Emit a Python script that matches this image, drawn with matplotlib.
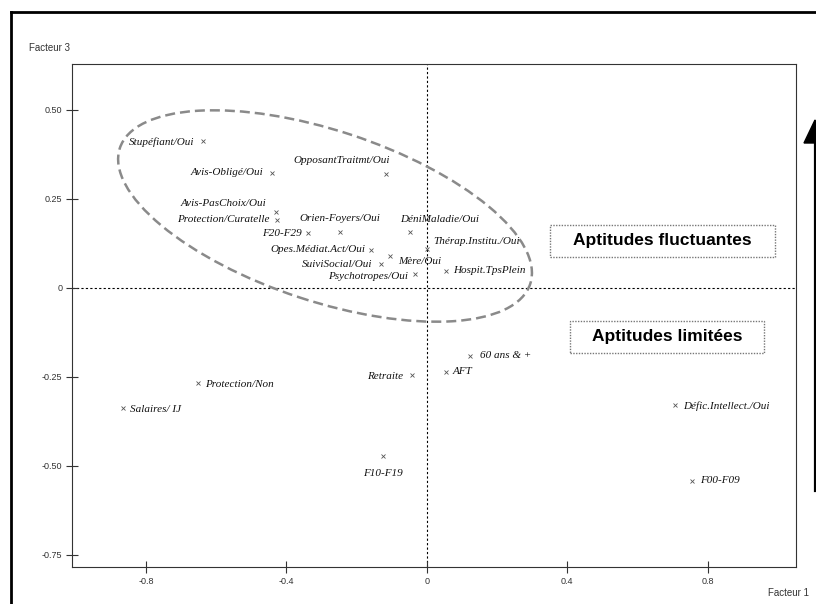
import matplotlib.pyplot as plt
from matplotlib.patches import Ellipse, Rectangle, Polygon
from matplotlib.lines import Line2D

# coordonnées des modalités sur les facteurs 1 et 3
labels = [
    'Stupéfiant/Oui', 'Avis-Obligé/Oui', 'OpposantTraitmt/Oui', 'Avis-PasChoix/Oui',
    'Protection/Curatelle', 'F20-F29', 'Orien-Foyers/Oui', 'Opes.Médiat.Act/Oui',
    'SuiviSocial/Oui', 'Mère/Oui', 'DéniMaladie/Oui', 'Thérap.Institu./Oui',
    'Psychotropes/Oui', 'Hospit.TpsPlein', 'Salaires/ IJ', 'Protection/Non',
    'Retraite', 'F10-F19', 'AFT', '60 ans & +', 'Défic.Intellect./Oui', 'F00-F09',
]
f1 = [-0.638, -0.442, -0.117, -0.430, -0.427, -0.339, -0.248, -0.160,
      -0.131, -0.105, -0.048, 0.000, -0.034, 0.054, -0.866, -0.652,
      -0.043, -0.125, 0.054, 0.123, 0.707, 0.755]
f3 = [0.413, 0.323, 0.320, 0.213, 0.191, 0.154, 0.157, 0.107,
      0.067, 0.090, 0.157, 0.110, 0.039, 0.048, -0.337, -0.267,
      -0.244, -0.472, -0.236, -0.191, -0.329, -0.542]

# placement des étiquettes (décalage en points, alignement)
label_pos = {
    'Stupéfiant/Oui': (-6, -1, 'right'),
    'Avis-Obligé/Oui': (-6, 0, 'right'),
    'OpposantTraitmt/Oui': (3, 10, 'right'),
    'Avis-PasChoix/Oui': (-7, 6, 'right'),
    'Protection/Curatelle': (-5, 0, 'right'),
    'F20-F29': (-4, 0, 'right'),
    'Orien-Foyers/Oui': (0, 10, 'center'),
    'Opes.Médiat.Act/Oui': (-4, 0, 'right'),
    'SuiviSocial/Oui': (-6, 0, 'right'),
    'Mère/Oui': (6, -4, 'left'),
    'DéniMaladie/Oui': (-7, 9, 'left'),
    'Thérap.Institu./Oui': (5, 5, 'left'),
    'Psychotropes/Oui': (-5, -2, 'right'),
    'Hospit.TpsPlein': (5, 0, 'left'),
    'Salaires/ IJ': (5, -1, 'left'),
    'Protection/Non': (5, -1, 'left'),
    'Retraite': (-6, -1, 'right'),
    'F10-F19': (0, -13, 'center'),
    'AFT': (5, 0, 'left'),
    '60 ans & +': (7, 0, 'left'),
    'Défic.Intellect./Oui': (6, -1, 'left'),
    'F00-F09': (6, 0, 'left'),
}

xticks = [-0.8, -0.4, 0, 0.4, 0.8]
yticks = [0.50, 0.25, 0, -0.25, -0.50, -0.75]

fig = plt.figure(figsize=(8.16, 6.04), dpi=100)
ax = fig.add_axes([72 / 816, 1 - 567 / 604, (796 - 72) / 816, (567 - 64) / 604])

ax.set_xlim(-1.011, 1.052)
ax.set_ylim(-0.784, 0.629)

ax.axhline(0, color='black', lw=0.8, ls=(0, (2, 2)), zorder=1)
ax.axvline(0, color='black', lw=0.8, ls=(0, (2, 2)), zorder=1)

ax.plot(f1, f3, 'x', color='#555555', ms=3.5, mew=0.6, ls='none')
for name, x, y in zip(labels, f1, f3):
    dx, dy, ha = label_pos[name]
    ax.annotate(name, (x, y), xytext=(dx, dy), textcoords='offset points',
                ha=ha, va='center', fontsize=8, style='italic',
                family='Liberation Serif', color='#111111')

# groupe entouré
ell = Ellipse((-0.29, 0.202), 1.23, 0.48, angle=-18, fill=False,
              ec='#8a8a8a', lw=1.8, ls=(0, (4, 2)))
ax.add_patch(ell)

ax.set_xticks(xticks)
ax.set_xticklabels(['-0.8', '-0.4', '0', '0.4', '0.8'])
ax.set_yticks(yticks)
ax.set_yticklabels(['0.50', '0.25', '0', '-0.25', '-0.50', '-0.75'])
ax.tick_params(direction='inout', length=8, width=0.8, labelsize=6.5,
               labelcolor='#333333', color='#333333', pad=3)
for lab in ax.get_xticklabels() + ax.get_yticklabels():
    lab.set_family('Liberation Sans')
for side in ['left', 'bottom', 'top', 'right']:
    ax.spines[side].set_linewidth(0.8)
    ax.spines[side].set_color('#333333')

fig.text(29 / 816, 1 - 48 / 604, 'Facteur 3', fontsize=7, color='#333333',
         family='Liberation Sans', va='center')
fig.text(768 / 816, 1 - 593 / 604, 'Facteur 1', fontsize=7, color='#333333',
         family='Liberation Sans', va='center')

# encadrés
for text, (x0, y0, x1, y1) in [('Aptitudes fluctuantes', (550, 225, 775, 257)),
                               ('Aptitudes limitées', (570, 321, 764, 353))]:
    fig.patches.append(Rectangle((x0, 604 - y1), x1 - x0, y1 - y0,
                                 transform=None, fill=False, ec='#777777',
                                 lw=1.0, ls=(0, (1, 1))))
    fig.text((x0 + x1) / 2 / 816, 1 - (y0 + y1) / 2 / 604, text,
             ha='center', va='center', fontsize=12.5, fontweight='bold',
             family='Liberation Sans')

# cadre extérieur
fig.add_artist(Line2D([11 / 816, 11 / 816], [0, 1 - 12 / 604], color='black',
                      lw=2, transform=fig.transFigure))
fig.add_artist(Line2D([11 / 816, 1], [1 - 12 / 604, 1 - 12 / 604], color='black',
                      lw=2, transform=fig.transFigure))

# flèche verticale
fig.add_artist(Line2D([815 / 816, 815 / 816], [1 - 490 / 604, 1 - 140 / 604],
                      color='black', lw=2.3, transform=fig.transFigure))
fig.patches.append(Polygon([(804, 604 - 143), (826, 604 - 143), (815, 604 - 120)],
                           closed=True, transform=None, fc='black', ec='black'))

fig.savefig('out.png', dpi=100)
